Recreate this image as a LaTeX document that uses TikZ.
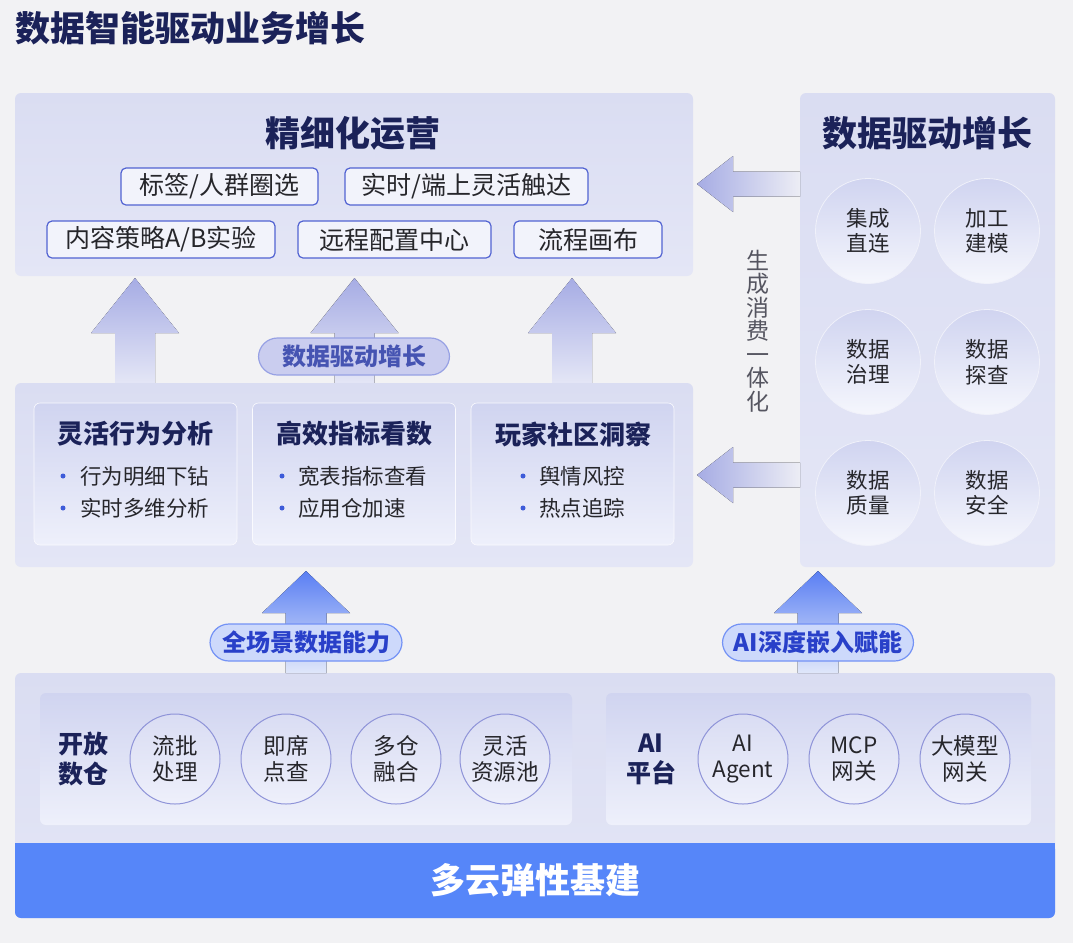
\documentclass[tikz,border=0pt]{standalone}
\usepackage{fontspec}
\setmainfont{Noto Sans CJK SC}
\newcommand\myfs[1]{\fontsize{#1}{#1}\selectfont}
\definecolor{bgC}{HTML}{F2F2F4}
\definecolor{navy}{HTML}{1B2259}
\definecolor{panT}{HTML}{DADDF2}
\definecolor{panB}{HTML}{E4E6F6}
\definecolor{cardT}{HTML}{D0D4F0}
\definecolor{cardB}{HTML}{EEF0FB}
\definecolor{tagB}{HTML}{5263D2}
\definecolor{tagF}{HTML}{F2F3FB}
\definecolor{txt}{HTML}{26262B}
\definecolor{bulC}{HTML}{3D5BD9}
\definecolor{arrT}{HTML}{A6ACE4}
\definecolor{arrB}{HTML}{E4E6F6}
\definecolor{barrT}{HTML}{5A7FF3}
\definecolor{barrB}{HTML}{E0E7FA}
\definecolor{bandC}{HTML}{5686F9}
\definecolor{circB}{HTML}{8E93D8}
\definecolor{vtxt}{HTML}{555560}
\newcommand\uparr[8]{\fill[top color=#7,bottom color=#8] (#1,#2) -- ({#1+#5},#3) -- ({#1+#6},#3) -- ({#1+#6},#4) -- ({#1-#6},#4) -- ({#1-#6},#3) -- ({#1-#5},#3) -- cycle;}
\begin{document}
\begin{tikzpicture}[x=1pt,y=-1pt,
  every node/.style={inner sep=0pt, outer sep=0pt},
  panel/.style={rounded corners=6pt, top color=panT, bottom color=panB, draw=none},
  card/.style={rounded corners=6pt, top color=cardT, bottom color=cardB, draw=white!70!cardB, line width=0.6pt},
  tag/.style={draw=tagB, line width=1.2pt, fill=tagF, rounded corners=5pt, text=txt, font=\myfs{25}, minimum height=37pt},
  bigtitle/.style={font=\myfs{35}\bfseries, text=navy},
  cardtitle/.style={font=\myfs{26}\bfseries, text=navy},
  bul/.style={font=\myfs{21.5}, text=txt, anchor=west},
  dot/.style={circle, fill=bulC, minimum size=5pt},
  rc/.style={circle, minimum size=105pt, top color=cardT, bottom color=cardB!60!white, draw=white!60!panT, line width=0.8pt, align=center, font=\myfs{21.5}, text=txt},
  bc/.style={circle, minimum size=90pt, top color=cardT!80!white, bottom color=cardB, draw=circB, line width=1pt, align=center, font=\myfs{22.5}, text=txt},
  badge/.style={rounded corners=19pt, line width=1.2pt, minimum height=37pt, font=\myfs{24}\bfseries}
]
\useasboundingbox[fill=bgC] (0,0) rectangle (1073,943);

% title
\node[anchor=west, font=\myfs{35}\bfseries, text=navy] (title) at (15,28) {数据智能驱动业务增长};

% top panel
\node[panel, minimum width=678pt, minimum height=183pt] (ops) at (354,184.5) {};
\node[bigtitle] (opsT) at (353,133) {精细化运营};
\node[tag, minimum width=197pt] (t1) at (219.5,186.5) {标签/人群圈选};
\node[tag, minimum width=243pt] (t2) at (466.5,186.5) {实时/端上灵活触达};
\node[tag, minimum width=228pt] (t3) at (161,239.5) {内容策略A/B实验};
\node[tag, minimum width=193pt] (t4) at (394.5,239.5) {远程配置中心};
\node[tag, minimum width=148pt] (t5) at (588,239.5) {流程画布};

% up arrows to top panel
\uparr{135}{278}{333}{383}{44}{20}{arrT}{arrB}
\uparr{354.5}{278}{333}{383}{44}{20}{arrT}{arrB}
\uparr{572}{278}{333}{383}{44}{20}{arrT}{arrB}

\node[badge, draw=tagB!60!white, fill=arrT!60!white, text=tagB!85!black, minimum width=191pt] (b1) at (354,356.5) {数据驱动增长};

% middle panel
\node[panel, minimum width=678pt, minimum height=184pt] (mid) at (354,475) {};
\node[card, minimum width=203pt, minimum height=142pt] (c1) at (135.5,474) {};
\node[card, minimum width=203pt, minimum height=142pt] (c2) at (354,474) {};
\node[card, minimum width=203pt, minimum height=142pt] (c3) at (572.5,474) {};
\node[cardtitle] (c1t) at (135,434) {灵活行为分析};
\node[cardtitle] (c2t) at (354,434) {高效指标看数};
\node[cardtitle] (c3t) at (573,434) {玩家社区洞察};
\node[dot] (d11) at (63,476) {}; \node[bul] (l11) at (80,476) {行为明细下钻};
\node[dot] (d12) at (63,508) {}; \node[bul] (l12) at (80,508) {实时多维分析};
\node[dot] (d21) at (282,476) {}; \node[bul] (l21) at (298,476) {宽表指标查看};
\node[dot] (d22) at (282,508) {}; \node[bul] (l22) at (298,508) {应用仓加速};
\node[dot] (d31) at (523,476) {}; \node[bul] (l31) at (539,476) {舆情风控};
\node[dot] (d32) at (523,508) {}; \node[bul] (l32) at (539,508) {热点追踪};

% right panel
\node[panel, minimum width=255pt, minimum height=474pt] (rp) at (927.5,330) {};
\node[bigtitle] (rpT) at (927,133) {数据驱动增长};
\node[rc] (r1) at (868,231) {集成\\[4pt]直连};
\node[rc] (r2) at (987,231) {加工\\[4pt]建模};
\node[rc] (r3) at (868,362) {数据\\[4pt]治理};
\node[rc] (r4) at (987,362) {数据\\[4pt]探查};
\node[rc] (r5) at (868,493) {数据\\[4pt]质量};
\node[rc] (r6) at (987,493) {数据\\[4pt]安全};

% left arrows
\fill[left color=arrT, right color=bgC!60!arrB] (697,184) -- (733,156) -- (733,171.5) -- (800,171.5) -- (800,196.5) -- (733,196.5) -- (733,212) -- cycle;
\fill[left color=arrT, right color=bgC!60!arrB] (697,475) -- (733,447) -- (733,462.5) -- (800,462.5) -- (800,487.5) -- (733,487.5) -- (733,503) -- cycle;

\node[align=center, font=\myfs{23}, text=vtxt] (vt) at (758,331) {生\\[0.5pt]成\\[0.5pt]消\\[0.5pt]费\\[0.5pt]一\\[0.5pt]体\\[0.5pt]化};

% bottom panel
\node[panel, minimum width=1040pt, minimum height=245pt] (bp) at (535,795.5) {};
\fill[bandC, rounded corners=6pt] (15,843) rectangle (1055,918);
\fill[bandC] (15,843) rectangle (1055,856);
\node[font=\myfs{35}\bfseries, text=white] (band) at (535,880) {多云弹性基建};

\node[card, draw=none, minimum width=532pt, minimum height=132pt] (sp1) at (306,759) {};
\node[card, draw=none, minimum width=425pt, minimum height=132pt] (sp2) at (818.5,759) {};
\node[align=center, font=\myfs{25}\bfseries, text=navy] (l1) at (83,759) {开放\\[5pt]数仓};
\node[align=center, font=\myfs{25}\bfseries, text=navy] (l2) at (651,759) {AI\\[5pt]平台};
\node[bc] (e1) at (175,759) {流批\\[3pt]处理};
\node[bc] (e2) at (286,759) {即席\\[3pt]点查};
\node[bc] (e3) at (396,759) {多仓\\[3pt]融合};
\node[bc] (e4) at (505,759) {灵活\\[3pt]资源池};
\node[bc] (e5) at (743,759) {AI\\[3pt]Agent};
\node[bc] (e6) at (854,759) {MCP\\[3pt]网关};
\node[bc] (e7) at (965,759) {大模型\\[3pt]网关};

% bottom arrows
\uparr{306}{571}{613}{673}{44}{20.5}{barrT}{barrB}
\uparr{818}{571}{613}{673}{44}{20.5}{barrT}{barrB}
\node[badge, draw=barrT!85!white, fill=barrT!30!white, text=bandC!60!blue!80!black, minimum width=192pt] (b2) at (306,642.5) {全场景数据能力};
\node[badge, draw=barrT!85!white, fill=barrT!30!white, text=bandC!60!blue!80!black, minimum width=191pt] (b3) at (818,642.5) {AI深度嵌入赋能};
\end{tikzpicture}
\end{document}
